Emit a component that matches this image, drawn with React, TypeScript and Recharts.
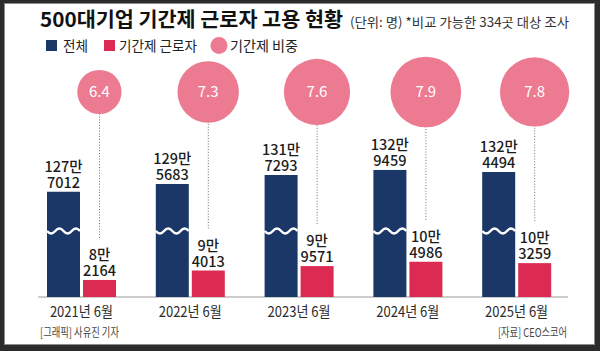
import React from 'react';
import { ComposedChart, Bar, Scatter, XAxis, YAxis, ZAxis, LabelList } from 'recharts';

// ---- data ----
const periods = ['2021년 6월', '2022년 6월', '2023년 6월', '2024년 6월', '2025년 6월'];
const totalWorkers = [1277012, 1295683, 1317293, 1329459, 1324494];
const tempWorkers = [82164, 94013, 99571, 104986, 103259];
const tempShare = [6.4, 7.3, 7.6, 7.9, 7.8];

const legendLabels = ['전체', '기간제 근로자', '기간제 비중'];
const titleText = '500대기업 기간제 근로자 고용 현황';
const subtitleText = '(단위: 명) *비교 가능한 334곳 대상 조사';
const creditText = '[그래픽] 사유진 기자';
const sourceText = '[자료] CEO스코어';

const rows = periods.map((period, i) => ({
  period,
  total: totalWorkers[i],
  temp: tempWorkers[i],
  share: tempShare[i],
}));

// ---- style ----
const FONT = "'Noto Sans CJK KR', 'Noto Sans', sans-serif";
const NAVY = '#1b3768';
const CRIMSON = '#dc2b53';
const PINK = '#ec7b92';
const TEXT = '#1c1c1c';
const BUBBLE_LEVEL = 0.83;
const BUBBLE_SHIFT = 18;
const WAVE_Y = 231;

const splitMan = (v: number) => [`${Math.floor(v / 10000)}만`, String(v % 10000).padStart(4, '0')];

const ValueLabel = (props: any) => {
  const { x, y, width, value } = props;
  const cx = x + width / 2;
  const [a, b] = splitMan(Number(value));
  return (
    <g fontSize={14.5} fontWeight={500} fill={TEXT} fontFamily={FONT} textAnchor="middle">
      <text x={cx} y={y - 20}>{a}</text>
      <text x={cx} y={y - 4}>{b}</text>
    </g>
  );
};

const TotalBar = (props: any) => {
  const { x, y, width, height } = props;
  const q = width / 4;
  const d = `M${x},${WAVE_Y} q${q / 2},5 ${q},0 t${q},0 t${q},0 t${q},0`;
  return (
    <g>
      <rect x={x} y={y} width={width} height={height} fill={NAVY} />
      <path d={d} stroke="#fff" strokeWidth={2.4} fill="none" />
    </g>
  );
};

const TempBar = (props: any) => {
  const { x, y, width, height, background } = props;
  const cx = x + width / 2;
  const top = background ? background.y + background.height * (1 - BUBBLE_LEVEL) : 92;
  return (
    <g>
      <line x1={cx} x2={cx} y1={y - 42} y2={top} stroke="#6f6f6f" strokeWidth={1} strokeDasharray="1 1.8" />
      <rect x={x} y={y} width={width} height={height} fill={CRIMSON} />
    </g>
  );
};

const Bubble = (props: any) => {
  const { cx, cy, size, payload } = props;
  const r = Math.sqrt((size ?? 1800) / Math.PI);
  const x = cx + BUBBLE_SHIFT;
  return (
    <g>
      <circle cx={x} cy={cy} r={r} fill={PINK} />
      <text x={x} y={cy + 5.5} textAnchor="middle" fontSize={15} fill="#fff" fontFamily={FONT}>{Number(payload.share).toFixed(1)}</text>
    </g>
  );
};

const XTick = (props: any) => {
  const { x, y, payload } = props;
  return (
    <text x={x} y={y + 12} textAnchor="middle" fontSize={15} fill="#2a2a2a" fontFamily={FONT} textLength={63} lengthAdjust="spacingAndGlyphs">{payload.value}</text>
  );
};

export default function App() {
  return (
    <div style={{ position: 'absolute', left: 0, top: 0, width: 600, height: 351, background: '#2c2c2c', overflow: 'hidden' }}>
      <div style={{ position: 'absolute', left: 4, top: 3, width: 589, height: 340, background: '#fff', border: '1px solid #8c8c8c' }} />
      <svg width={600} height={351} style={{ position: 'absolute', left: 0, top: 0 }}>
        <text x={40} y={27} fontSize={20} fontWeight={700} fill="#111" fontFamily={FONT} textLength={303} lengthAdjust="spacingAndGlyphs">{titleText}</text>
        <text x={350} y={27} fontSize={13} fill="#333" fontFamily={FONT} textLength={219} lengthAdjust="spacingAndGlyphs">{subtitleText}</text>
        <rect x={46} y={40} width={11} height={11} fill={NAVY} />
        <text x={63} y={51} fontSize={14} fill="#222" fontFamily={FONT} textLength={25} lengthAdjust="spacingAndGlyphs">{legendLabels[0]}</text>
        <rect x={104} y={40} width={11} height={11} fill={CRIMSON} />
        <text x={119} y={51} fontSize={14} fill="#222" fontFamily={FONT} textLength={78} lengthAdjust="spacingAndGlyphs">{legendLabels[1]}</text>
        <circle cx={219} cy={45.5} r={8.5} fill={PINK} />
        <text x={230} y={51} fontSize={14} fill="#222" fontFamily={FONT} textLength={68} lengthAdjust="spacingAndGlyphs">{legendLabels[2]}</text>
        <line x1={38} x2={568} y1={297} y2={297} stroke="#9a9a9a" strokeWidth={1.2} />
        <text x={40} y={337} fontSize={12} fill="#444" fontFamily={FONT} textLength={79} lengthAdjust="spacingAndGlyphs">{creditText}</text>
        <text x={498} y={337} fontSize={12} fill="#444" fontFamily={FONT} textLength={69} lengthAdjust="spacingAndGlyphs">{sourceText}</text>
      </svg>
      <div style={{ position: 'absolute', left: 0, top: 0 }}>
        <ComposedChart width={600} height={351} data={rows} margin={{ top: 50, right: 29, bottom: 24, left: 27 }} barSize={33} barGap={3}>
          <XAxis dataKey="period" height={30} axisLine={false} tickLine={false} tick={<XTick />} interval={0} />
          <YAxis yAxisId="total" hide domain={[1023700, 1618165]} allowDataOverflow />
          <YAxis yAxisId="temp" hide domain={[60810, 370334]} allowDataOverflow />
          <YAxis yAxisId="bubble" hide domain={[0, 1]} />
          <ZAxis dataKey="share" domain={[6.4, 7.9]} range={[1533, 3927]} />
          <Bar yAxisId="total" dataKey="total" shape={<TotalBar />} isAnimationActive={false}>
            <LabelList dataKey="total" content={<ValueLabel />} />
          </Bar>
          <Bar yAxisId="temp" dataKey="temp" shape={<TempBar />} isAnimationActive={false}>
            <LabelList dataKey="temp" content={<ValueLabel />} />
          </Bar>
          <Scatter yAxisId="bubble" dataKey={() => BUBBLE_LEVEL} shape={Bubble} isAnimationActive={false} />
        </ComposedChart>
      </div>
    </div>
  );
}
